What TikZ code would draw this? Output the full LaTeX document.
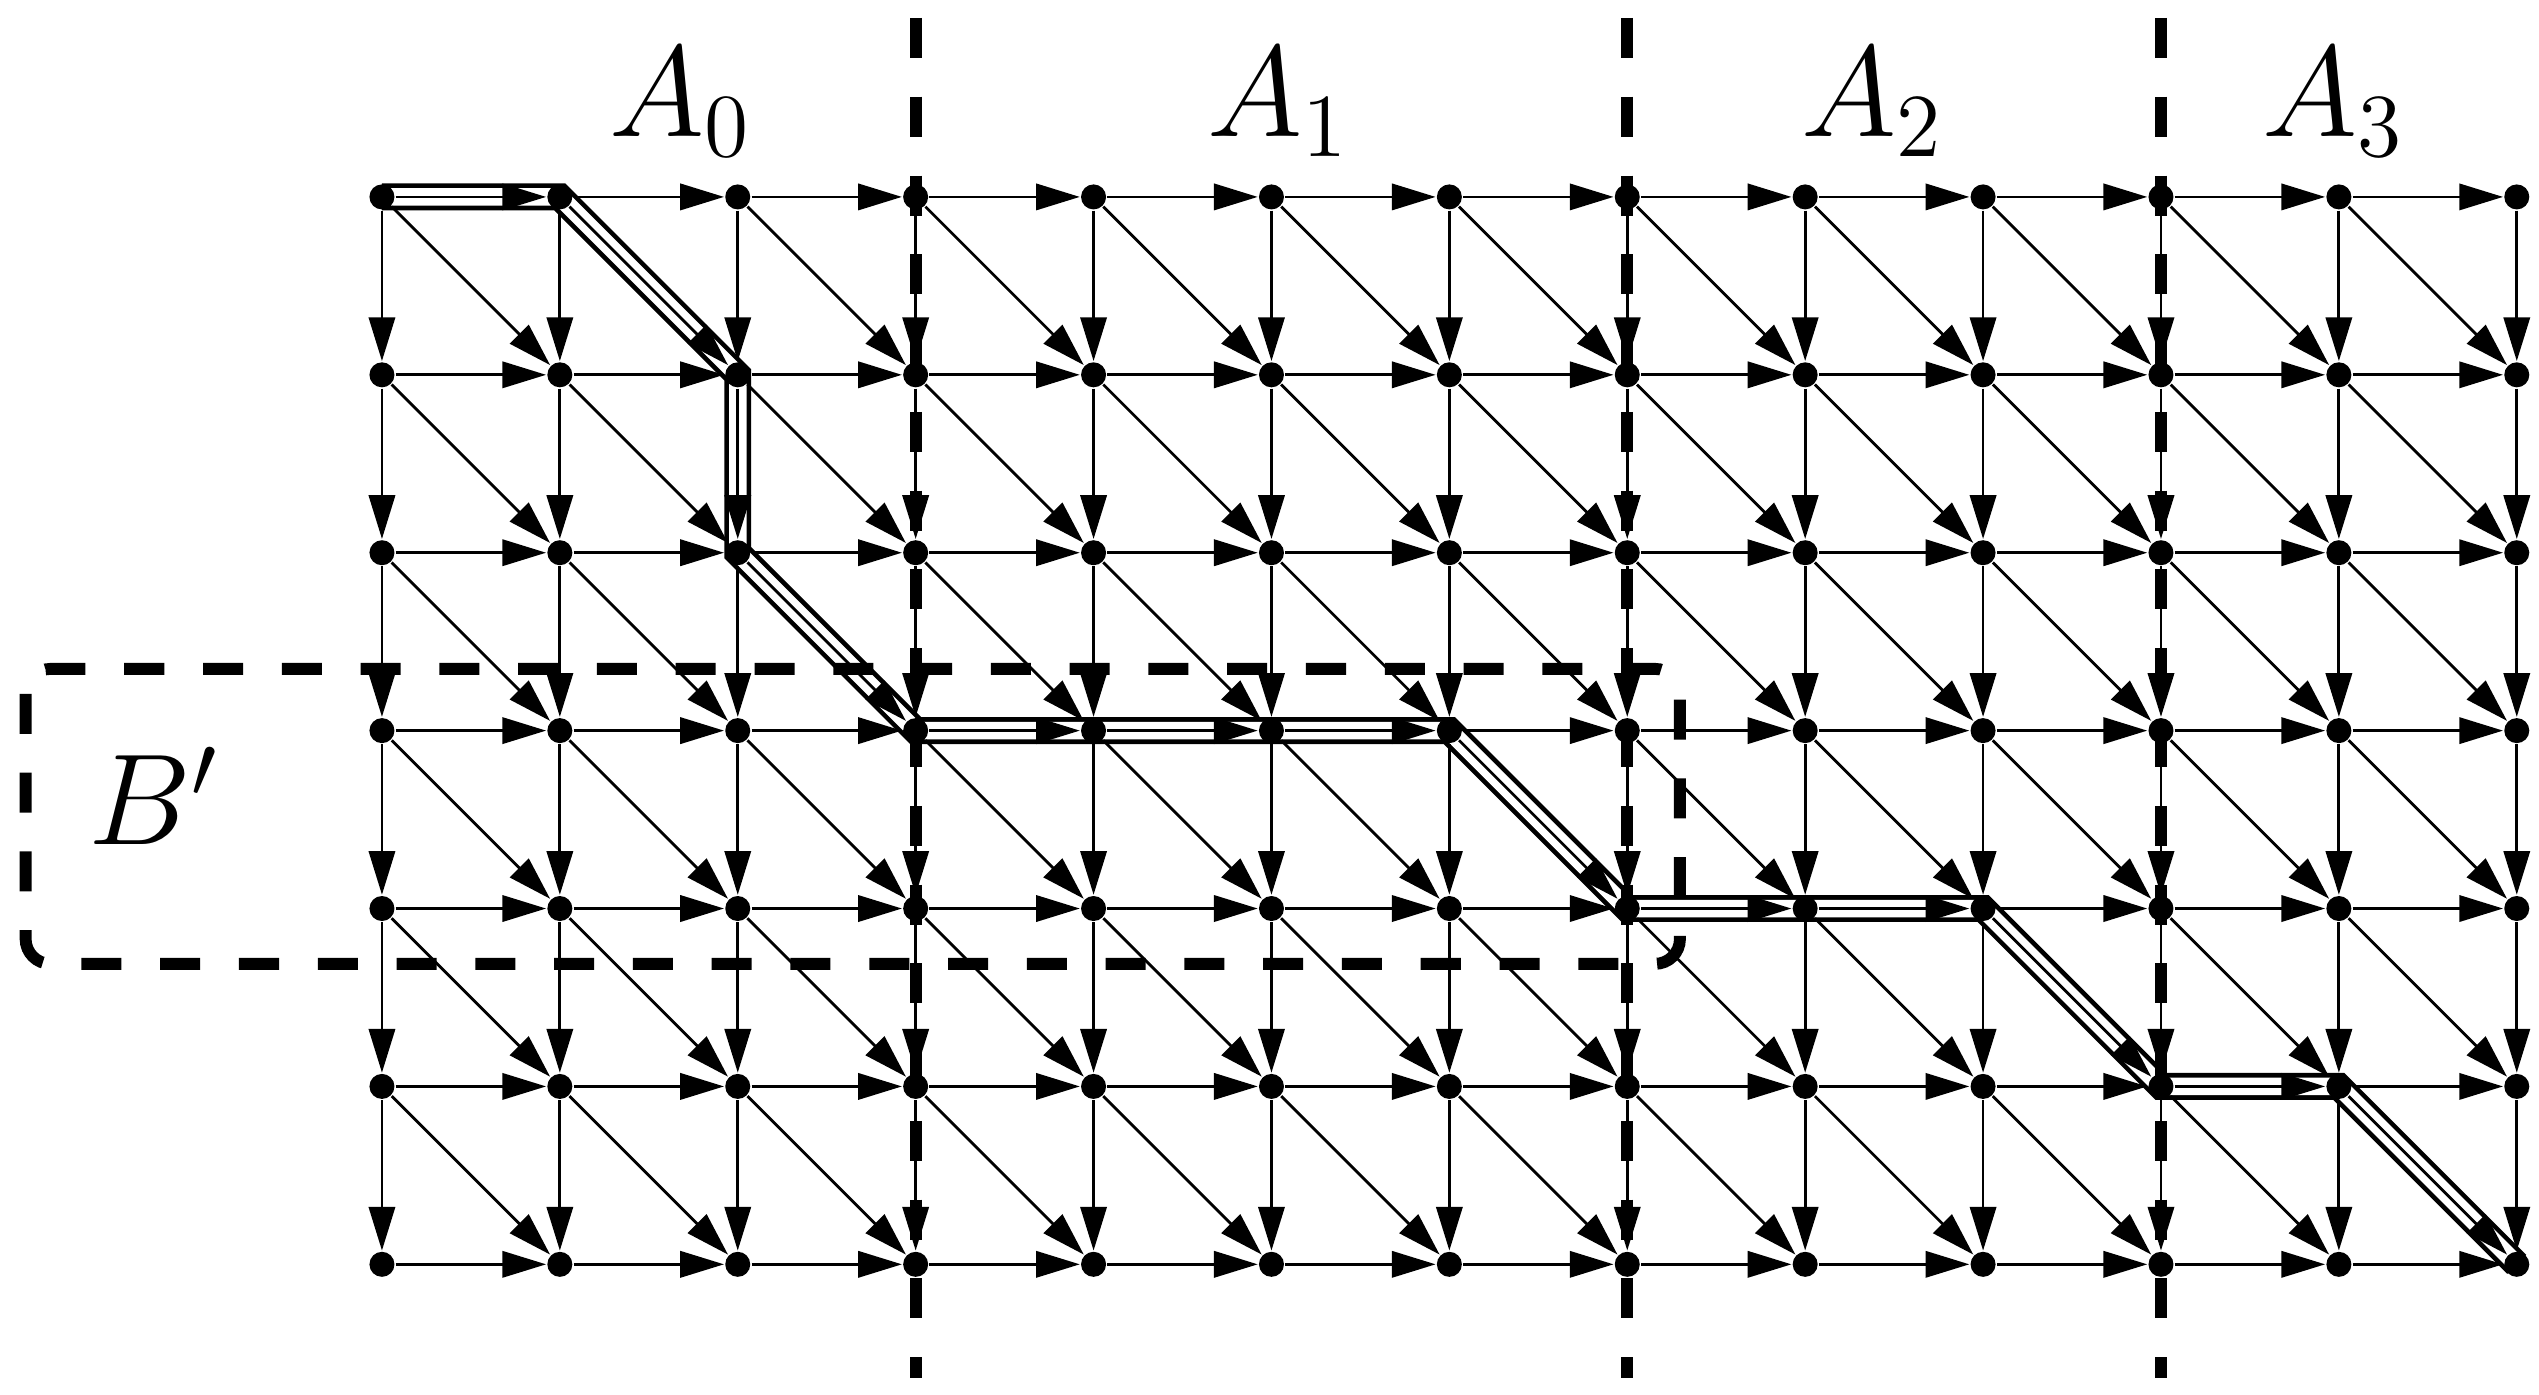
\documentclass[tikz,border=0pt]{standalone}
\usepackage{amsmath}
\usetikzlibrary{arrows.meta,backgrounds}

\tikzset{
	vtx/.style={circle,fill=black,inner sep=0pt,minimum size=4pt},
	link/.style={line width=0.45pt,-{Triangle[length=7pt,width=4.2pt]}},
	hpath/.style={double,line width=0.75pt,double distance=2.8pt},
	cutline/.style={line width=1.9pt,dash pattern=on 6.4pt off 6.2pt},
	lbl/.style={font=\huge,anchor=base,inner sep=0pt},
}

\begin{document}
\begin{tikzpicture}
	\useasboundingbox (-2.147,1.107) rectangle (12.125,-6.729);

	%vertices
	\foreach \i in {0,...,12}
		\foreach \j in {0,...,6}
			\node[vtx] (n-\i-\j) at (\i,-\j) {};

	%highlighted path
	\begin{scope}[on background layer]
	\draw[hpath] (n-0-0.center) -- (n-1-0.center) -- (n-2-1.center) -- (n-2-2.center)
		-- (n-3-3.center) -- (n-6-3.center) -- (n-7-4.center) -- (n-9-4.center)
		-- (n-10-5.center) -- (n-11-5.center) -- (n-12-6.center);
	\end{scope}

	%arrows
	\foreach \i in {0,...,12}
		\foreach \j in {0,...,6}{
			\pgfmathtruncatemacro{\inext}{\i+1}
			\pgfmathtruncatemacro{\jnext}{\j+1}
			\ifnum\i<12 \draw[link] (n-\i-\j) -- (n-\inext-\j); \fi
			\ifnum\j<6 \draw[link] (n-\i-\j) -- (n-\i-\jnext); \fi
			\ifnum\i<12 \ifnum\j<6 \draw[link] (n-\i-\j) -- (n-\inext-\jnext); \fi\fi
		}

	%cuts
	\foreach \x in {3,7,10}
		\draw[cutline] (\x,1.006) -- (\x,-6.64);
	\draw[cutline,rounded corners=0.14cm] (-2.003,-2.653) rectangle (7.296,-4.311);

	%labels
	\node[lbl] (a0) at (1.68,0.337)   {$A_0$};
	\node[lbl] (a1) at (5.04,0.337)   {$A_1$};
	\node[lbl] (a2) at (8.38,0.337)   {$A_2$};
	\node[lbl] (a3) at (10.97,0.337)  {$A_3$};
	\node[lbl] (bp) at (-1.279,-3.642) {$B'$};
\end{tikzpicture}
\end{document}
